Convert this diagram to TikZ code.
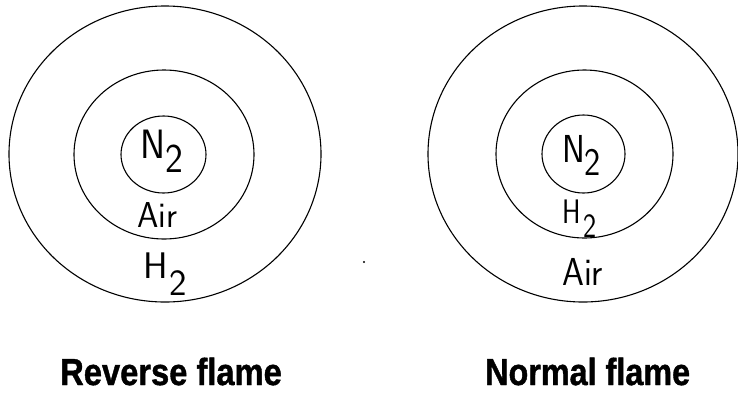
\documentclass[tikz,border=0pt]{standalone}
\usepackage{fontspec}
\newfontfamily\labelfont[BoldFeatures={FakeBold=1.2}]{Liberation Sans}
\usetikzlibrary{shapes.geometric}
\begin{document}
\begin{tikzpicture}[x=1pt,y=-1pt,
  ring/.style={draw, ellipse, line width=1.1pt, inner sep=0pt, outer sep=0pt},
  gas/.style={inner sep=0pt, anchor=base west},
  captext/.style={inner sep=0pt, anchor=base west, font=\labelfont\bfseries\fontsize{37.7}{38}\selectfont}]
\useasboundingbox (0,0) rectangle (738,397);
% left: reverse flame
\node[ring, minimum width=312pt, minimum height=296pt] (Louter) at (165,154) {};
\node[ring, minimum width=180pt, minimum height=169pt] (Linner) at (164,154.5) {};
\node[ring, minimum width=85pt, minimum height=77pt] (Lcore) at (163.5,154.5) {};
\node[gas, font=\sffamily\fontsize{41}{41}\selectfont] (LN) at (140,158) {\scalebox{0.92}[1]{N\raisebox{-14pt}{2}}};
\node[gas, font=\sffamily\fontsize{36}{36}\selectfont] (LAir) at (137,227) {\scalebox{0.95}[1]{Air}};
\node[gas, font=\sffamily\fontsize{37}{37}\selectfont] (LH) at (143,278) {H\kern2pt\raisebox{-17pt}{2}};
% right: normal flame
\node[ring, minimum width=310pt, minimum height=296pt] (Router) at (583,154) {};
\node[ring, minimum width=177pt, minimum height=168pt] (Rinner) at (584.5,154) {};
\node[ring, minimum width=83pt, minimum height=78pt] (Rcore) at (583.5,154) {};
\node[gas, font=\sffamily\fontsize{39}{39}\selectfont] (RN) at (562,162) {\scalebox{0.88}[1]{N\raisebox{-13pt}{2}}};
\node[gas, font=\sffamily\fontsize{34}{34}\selectfont] (RH) at (562,223) {\scalebox{0.82}[1]{H\kern3pt\raisebox{-14pt}{2}}};
\node[gas, font=\sffamily\fontsize{39}{39}\selectfont] (RAir) at (562,285) {\scalebox{0.9}[1]{Air}};
% speck
\fill (364,262) circle (1.1);
% captions
\node[captext] (Lcap) at (60,385) {\scalebox{0.867}[1]{Reverse flame}};
\node[captext] (Rcap) at (485,385) {\scalebox{0.858}[1]{Normal flame}};
\end{tikzpicture}
\end{document}
